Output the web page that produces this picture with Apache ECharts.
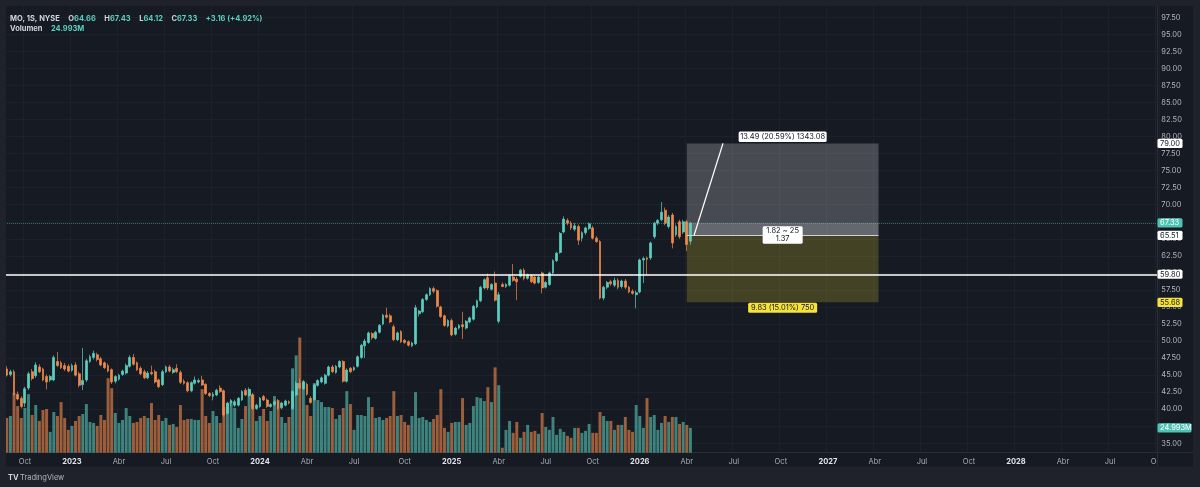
<!DOCTYPE html>
<html><head><meta charset="utf-8">
<script src="https://cdn.jsdelivr.net/npm/echarts@6/dist/echarts.min.js"></script>
<style>html,body{margin:0;padding:0;background:#1f222b;}#c{width:1200px;height:487px;}</style>
</head><body><div id="c"></div>
<script>
// ---------------- DATA (weekly candles, MO, NYSE) ----------------
const opens = [
45.9,45.1,45.5,42.2,41.6,40.9,43.1,45.5,44.9,46.2,
45.9,44.8,44.3,44.3,47.0,46.8,46.4,46.3,45.7,46.5,
45.2,43.6,44.3,47.0,47.6,48.0,47.4,46.8,46.4,45.8,
44.1,44.4,45.1,45.3,46.3,47.6,46.8,46.0,45.5,44.6,
45.4,45.5,44.3,43.6,45.5,46.2,45.4,46.0,45.4,44.1,
43.9,42.7,43.8,44.0,44.3,43.65,42.3,41.9,42.1,43.1,
42.7,39.4,40.9,40.6,40.6,41.4,42.8,42.0,42.1,40.1,
40.4,41.85,41.35,40.4,40.7,41.2,40.2,40.6,41.1,40.1,
42.1,43.8,43.0,43.65,41.6,41.4,43.5,44.0,43.8,45.0,
46.2,45.4,46.2,47.0,44.1,46.0,45.8,46.3,47.6,49.3,
49.8,51.1,50.4,51.3,52.5,53.8,53.7,52.1,50.2,51.4,
50.1,49.9,49.3,49.6,54.0,54.3,56.1,56.8,57.7,57.4,
55.0,53.7,52.2,53.0,51.0,51.9,52.4,51.9,52.8,53.2,
55.0,55.9,57.8,59.3,57.6,58.5,52.9,58.3,58.0,58.2,
59.4,59.1,59.5,60.4,59.2,59.6,59.4,58.6,60.0,57.9,
58.3,60.0,61.8,63.0,66.0,67.7,67.3,66.4,66.8,65.1,
65.9,66.5,66.6,65.1,64.6,56.3,57.9,58.7,58.2,58.9,
58.0,58.8,57.9,57.3,56.8,57.2,61.9,62.2,62.2,65.3,
67.3,67.8,69.2,66.8,68.5,65.6,67.5,66.0,67.5,64.66];
const highs = [
46.3,45.8,45.8,42.6,41.9,43.3,45.5,45.9,46.9,46.6,
46.1,45.1,45.0,47.9,48.4,47.1,46.8,46.6,46.7,46.9,
45.5,49.0,47.4,48.0,48.6,48.3,47.7,47.0,46.7,46.0,
45.0,45.2,45.8,46.7,47.9,48.1,47.0,46.3,45.8,45.6,
46.4,45.8,44.5,45.8,46.4,46.5,46.1,46.6,45.7,44.4,
44.1,44.1,44.8,44.5,44.9,43.8,42.5,42.5,43.0,43.5,
42.9,41.1,41.5,41.4,41.8,42.8,43.1,43.2,42.4,40.8,
41.8,42.1,41.6,40.9,41.3,41.5,41.1,41.4,41.3,42.8,
44.1,44.5,44.3,43.9,41.9,43.8,44.4,44.8,45.2,46.4,
46.5,46.5,47.2,47.2,46.0,46.2,46.3,47.9,49.6,50.3,
51.4,51.3,51.5,52.5,54.0,54.9,54.0,52.4,51.4,51.6,
50.3,50.1,49.9,55.3,54.6,56.3,57.0,57.9,58.0,57.6,
55.2,53.9,53.2,53.3,52.1,52.5,54.3,53.1,53.6,55.3,
56.1,58.1,59.2,59.9,58.5,60.2,57.2,58.6,58.5,59.8,
61.3,59.4,60.6,60.7,59.9,59.8,59.6,59.6,60.2,58.8,
60.2,62.0,63.1,66.0,68.3,68.0,67.6,67.3,67.1,66.1,
66.8,67.4,66.9,65.4,64.8,58.1,58.8,59.0,59.3,59.2,
59.0,59.1,58.1,57.6,57.4,62.1,62.4,62.4,64.6,67.5,
67.9,70.4,69.6,68.5,68.8,67.1,67.8,67.8,67.8,67.43];
const lows = [
44.8,44.8,42.0,41.3,40.1,40.3,42.8,44.2,44.6,45.3,
44.1,42.9,44.0,44.1,46.2,45.9,45.6,45.4,45.5,44.8,
43.2,42.8,44.0,46.8,47.3,47.0,46.3,45.9,45.4,43.7,
43.8,44.2,44.9,45.1,46.1,46.4,45.6,45.0,44.4,44.4,
45.0,43.8,43.1,43.4,45.3,45.4,45.2,45.3,43.7,43.6,
42.5,42.5,43.6,43.8,43.4,42.1,41.8,41.3,41.9,42.4,
38.9,39.2,40.5,40.3,40.4,41.2,41.9,41.8,39.9,39.9,
40.2,41.2,40.2,40.2,40.5,39.9,40.0,40.4,40.7,39.9,
41.9,42.9,42.8,42.0,40.8,41.2,43.3,43.8,43.6,44.8,
45.3,45.2,46.0,43.9,43.9,45.3,45.6,46.1,47.4,47.5,
49.6,50.2,50.2,51.1,52.3,53.3,52.6,50.0,50.0,49.7,
49.6,49.2,49.1,49.4,53.6,54.1,55.9,56.6,57.0,54.9,
53.4,52.1,52.0,50.7,50.8,51.7,50.3,51.7,52.6,53.0,
54.8,55.7,57.6,57.5,57.4,55.8,52.6,57.9,57.8,58.0,
58.7,56.0,59.3,58.9,59.0,58.5,58.3,58.4,57.0,57.7,
58.1,59.8,61.6,62.8,65.8,67.0,66.3,66.1,64.1,64.6,
65.6,66.3,64.9,64.4,56.1,56.0,57.6,58.1,57.9,57.6,
57.7,57.6,57.0,56.8,54.8,57.0,58.5,59.7,61.9,65.0,
67.0,67.6,67.0,66.5,63.6,65.3,65.0,65.7,63.2,64.12];
const closes = [
45.0,45.5,42.2,41.5,40.4,43.0,45.2,44.5,46.5,45.5,
44.3,44.0,44.8,47.6,46.4,46.1,45.9,45.6,46.4,45.0,
43.5,44.2,47.1,47.7,48.2,47.3,46.5,46.1,45.6,44.0,
44.8,45.0,45.6,46.4,47.6,46.6,45.8,45.2,44.6,45.3,
45.2,44.0,43.3,45.5,46.2,45.6,45.8,45.5,43.95,43.8,
42.7,43.9,44.3,44.2,43.55,42.3,42.0,42.2,42.8,42.6,
39.15,40.9,41.3,41.1,41.6,42.6,42.1,42.9,40.1,40.6,
41.6,41.35,40.4,40.7,41.1,40.1,40.9,41.2,40.9,42.6,
43.8,43.1,44.0,42.2,41.0,43.55,44.2,44.6,45.0,46.2,
45.5,46.3,47.0,44.1,45.75,45.5,46.1,47.7,49.4,50.0,
51.2,50.5,51.3,52.3,53.8,53.5,52.8,50.2,51.2,49.9,
49.8,49.4,49.7,54.9,54.4,56.1,56.8,57.7,57.3,55.1,
53.6,52.3,53.0,50.9,51.9,52.3,52.1,52.9,53.4,55.1,
55.9,57.9,59.0,57.8,58.3,56.0,56.8,58.0,58.3,59.6,
58.9,58.7,60.4,59.2,59.7,58.7,58.5,59.4,57.8,58.6,
60.0,61.8,62.9,65.8,67.9,67.3,66.6,66.9,64.8,65.9,
66.6,67.2,65.1,64.6,56.3,57.9,58.6,58.4,58.9,57.9,
58.8,57.9,57.2,57.0,57.1,61.9,62.1,62.0,64.4,67.3,
67.7,68.9,67.3,68.2,64.4,66.8,65.3,67.5,64.17,67.33];
const volumes = [ // millions
35,37,60,47,35,45,59,38,48,32,
43,44,21,41,37,51,35,23,27,32,
37,39,49,31,30,27,38,33,75,65,
40,30,33,45,37,30,31,35,37,35,
50,33,38,32,35,28,29,26,48,33,
34,34,33,33,64,37,30,42,37,30,
46,50,52,45,25,34,47,64,59,32,
37,44,32,42,57,53,36,30,36,85,
98,116,72,48,37,70,53,51,46,46,
45,34,38,45,62,49,23,38,38,37,
56,46,35,36,33,35,37,62,37,38,
31,28,37,61,35,36,33,31,34,38,
64,25,21,30,31,31,55,28,30,47,
56,55,52,66,51,86,68,5,23,32,
20,31,15,21,28,21,22,19,40,26,
23,36,18,24,21,17,15,25,25,20,
22,29,20,20,41,37,32,32,23,28,
28,36,23,21,48,37,25,55,36,38,
23,30,37,31,36,36,29,31,28,24.993];
const priceAxis = {min: 35, max: 97.5, step: 2.5};
const monthNames = ['Ene','Feb','Mar','Abr','May','Jun','Jul','Ago','Sep','Oct','Nov','Dic'];
const position = {entry: 65.51, target: 79.00, stop: 55.68, startBar: 188, endBar: 241};
const positionTexts = {top: '13.49 (20.59%) 1343.08', mid: '1.82 ~ 25', ratio: '1.37', bottom: '9.83 (15.01%) 750'};
const horizontalLevel = 59.80;
const trendLine = {fromBar: 190, fromPrice: 65.51, toBar: 198, toPrice: 79.00};
const symbolTitle = 'MO, 1S, NYSE';

// ---------------- STYLE ----------------
const FONT = 'Inter, "Noto Sans", sans-serif';
const UP = '#5bd0c0', DOWN = '#f0894a';
const UPV = 'rgba(91,208,192,0.58)', DOWNV = 'rgba(240,137,74,0.62)';
const PANEL = '#161a23', OUTER = '#1f222b', GRIDC = '#1d212b', SEP = '#2a2e39';
const N_WEEKS = 319, BAR_PX = 3.617;
const GW = N_WEEKS * BAR_PX;

const DAY = 86400000, START = Date.UTC(2022, 7, 29);
const weeks = [];
for (let i = 0; i < N_WEEKS; i++) weeks.push(new Date(START + i * 7 * DAY).toISOString().slice(0, 10));
function isQuarterStart(i) {
  if (i <= 0) return false;
  const m = new Date(START + i * 7 * DAY).getUTCMonth();
  const pm = new Date(START + (i - 1) * 7 * DAY).getUTCMonth();
  return m !== pm && m % 3 === 0;
}
function fmtLabel(v) {
  const d = new Date(v + 'T00:00:00Z');
  const m = d.getUTCMonth();
  return m === 0 ? '{y|' + d.getUTCFullYear() + '}' : '{m|' + monthNames[m] + '}';
}

const candleData = opens.map((o, i) => [o, closes[i], lows[i], highs[i]]);
const volData = volumes.map((v, i) => ({value: v, itemStyle: {color: closes[i] >= opens[i] ? UPV : DOWNV}}));

const n = closes.length;
const last = n - 1;
const chg = closes[last] - closes[last - 1];
const pct = chg / closes[last - 1] * 100;
const sgn = chg >= 0 ? '+' : '';

const chart = echarts.init(document.getElementById('c'), null, {renderer: 'canvas', width: 1200, height: 487});

const option = {
  backgroundColor: PANEL,
  animation: false,
  textStyle: {fontFamily: FONT},
  title: [
    {left: 10, top: 10, padding: 0,
     text: '{w|' + symbolTitle + '}  {w|O}{g|' + opens[last].toFixed(2) + '}  {w|H}{g|' + highs[last].toFixed(2) +
       '}  {w|L}{g|' + lows[last].toFixed(2) + '}  {w|C}{g|' + closes[last].toFixed(2) + '}  {g|' + sgn + chg.toFixed(2) +
       ' (' + sgn + pct.toFixed(2) + '%)}',
     textStyle: {rich: {w: {color: '#d1d4dc', fontSize: 7.5, fontFamily: FONT}, g: {color: UP, fontSize: 7.5, fontFamily: FONT}}}},
    {left: 10, top: 20, padding: 0,
     text: '{w|Volumen}  {g|' + volumes[last].toFixed(3) + 'M}',
     textStyle: {rich: {w: {color: '#d1d4dc', fontSize: 7.5, fontFamily: FONT}, g: {color: UP, fontSize: 7.5, fontFamily: FONT}}}}
  ],
  grid: [
    {left: 5, top: 17.3, width: GW, height: 426},
    {left: 5, top: 6, width: GW, height: 446.7}
  ],
  xAxis: [
    {type: 'category', gridIndex: 0, data: weeks, boundaryGap: true, show: false},
    {type: 'category', gridIndex: 1, data: weeks, boundaryGap: true,
     axisLine: {show: true, lineStyle: {color: SEP, width: 1}},
     axisTick: {show: false},
     axisLabel: {interval: (i) => isQuarterStart(i), formatter: fmtLabel, margin: 5,
       rich: {y: {color: '#e0e3eb', fontWeight: 'bold', fontSize: 7.5, fontFamily: FONT},
              m: {color: '#a9acb5', fontSize: 7.5, fontFamily: FONT}}},
     splitLine: {show: true, interval: (i) => isQuarterStart(i), lineStyle: {color: GRIDC, width: 1}}}
  ],
  yAxis: [
    {type: 'value', gridIndex: 0, position: 'right', min: priceAxis.min, max: priceAxis.max, interval: priceAxis.step,
     axisLine: {show: false}, axisTick: {show: false},
     axisLabel: {margin: 2.5, fontSize: 7.5, color: '#b2b5be', fontFamily: FONT, formatter: (v) => v.toFixed(2)},
     splitLine: {show: true, lineStyle: {color: GRIDC, width: 1}}},
    {type: 'value', gridIndex: 1, min: 0, max: 450, show: false}
  ],
  series: [
    {type: 'bar', name: 'Volumen', xAxisIndex: 1, yAxisIndex: 1, data: volData, barWidth: '82%', z: 1, silent: true},
    {type: 'candlestick', name: 'MO', xAxisIndex: 0, yAxisIndex: 0, data: candleData, barWidth: 2.3, z: 3, silent: true,
     itemStyle: {color: UP, color0: DOWN, borderColor: UP, borderColor0: DOWN, borderWidth: 0.7}},
    {type: 'line', name: 'tools', xAxisIndex: 0, yAxisIndex: 0, data: [], z: 5, silent: true, symbol: 'none',
     markArea: {silent: true, data: [
       [{xAxis: position.startBar, yAxis: position.entry, itemStyle: {color: 'rgba(255,255,255,0.21)'}}, {xAxis: position.endBar, yAxis: position.target}],
       [{xAxis: position.startBar, yAxis: position.entry, itemStyle: {color: 'rgba(255,255,255,0.16)'}}, {xAxis: position.endBar, yAxis: closes[last]}],
       [{xAxis: position.startBar, yAxis: position.stop, itemStyle: {color: 'rgba(255,228,40,0.2)'}}, {xAxis: position.endBar, yAxis: position.entry}]
     ]},
     markLine: {silent: true, symbol: 'none', label: {show: false}, data: [
       {yAxis: closes[last], lineStyle: {color: 'rgba(91,208,192,0.45)', width: 1, type: 'dotted'}},
       {yAxis: horizontalLevel, lineStyle: {color: '#ffffff', width: 1.5, type: 'solid'}},
       [{coord: [position.startBar, position.entry], lineStyle: {color: '#cfd1d6', width: 1, type: 'solid'}}, {coord: [position.endBar, position.entry]}],
       [{coord: [trendLine.fromBar, trendLine.fromPrice], lineStyle: {color: '#ffffff', width: 1.3, type: 'solid'}}, {coord: [trendLine.toBar, trendLine.toPrice]}]
     ]}}
  ]
};
chart.setOption(option);

// ---------------- overlays (tags / labels) positioned through the axes ----------------
const py = (v) => chart.convertToPixel({yAxisIndex: 0}, v);
const vy = (v) => chart.convertToPixel({yAxisIndex: 1}, v);
const px = (i) => chart.convertToPixel({xAxisIndex: 0}, i);
function txt(x, y, text, fill, align, extra) {
  return {type: 'text', x: x, y: y, z: 101,
    style: Object.assign({text: text, fill: fill, fontSize: 7.5, fontFamily: FONT,
      align: align, verticalAlign: 'middle', textAlign: align, textVerticalAlign: 'middle'}, extra || {})};
}
function rect(x, y, w, h, fill, z) {
  return {type: 'rect', z: z || 100, shape: {x: x, y: y, width: w, height: h, r: 1.5}, style: {fill: fill}};
}
function tag(y, text, bg, fg, w) {
  return [rect(1157.5, y - 4.6, w, 9.2, bg, 100), txt(1160, y + 0.3, text, fg, 'left')];
}
const els = [];
// outer frame
els.push({type: 'rect', z: 90, shape: {x: 0, y: 0, width: 1200, height: 6}, style: {fill: OUTER}});
els.push({type: 'rect', z: 90, shape: {x: 0, y: 0, width: 6, height: 487}, style: {fill: OUTER}});
els.push({type: 'rect', z: 90, shape: {x: 1193, y: 0, width: 7, height: 487}, style: {fill: OUTER}});
els.push({type: 'rect', z: 90, shape: {x: 0, y: 466.5, width: 1200, height: 21}, style: {fill: OUTER}});
// price-scale column separator & time-axis cover under price scale
els.push({type: 'rect', z: 89, shape: {x: 1157.5, y: 453.2, width: 36, height: 13.3}, style: {fill: PANEL}});
els.push({type: 'line', z: 91, shape: {x1: 1157.5, y1: 6, x2: 1157.5, y2: 466.5}, style: {stroke: SEP, lineWidth: 1}});
els.push({type: 'line', z: 91, shape: {x1: 1157.5, y1: 452.7, x2: 1193, y2: 452.7}, style: {stroke: SEP, lineWidth: 1}});
// position tool labels
const midX = (px(position.startBar) + px(position.endBar)) / 2;
const yT = py(position.target), yE = py(position.entry), yS = py(position.stop);
els.push(rect(midX - 44, yT - 12, 88, 10.5, '#ffffff', 100));
els.push(txt(midX, yT - 6.6, positionTexts.top, '#131722', 'center'));
els.push(rect(midX - 20, yE - 9, 40, 17.5, '#ffffff', 100));
els.push(txt(midX, yE - 4.3, positionTexts.mid, '#131722', 'center'));
els.push(txt(midX, yE + 3.6, positionTexts.ratio, '#131722', 'center'));
els.push(rect(midX - 34.5, yS + 0.5, 69, 10, '#f7e23c', 100));
els.push(txt(midX, yS + 5.6, positionTexts.bottom, '#131722', 'center'));
// price-scale tags
els.push(...tag(yT, position.target.toFixed(2), '#ffffff', '#131722', 25));
els.push(...tag(py(closes[last]), closes[last].toFixed(2), '#4fc3b3', '#ffffff', 25));
els.push(...tag(yE, position.entry.toFixed(2), '#ffffff', '#131722', 25));
els.push(...tag(py(horizontalLevel), horizontalLevel.toFixed(2), '#ffffff', '#131722', 25));
els.push(...tag(yS, position.stop.toFixed(2), '#f7e23c', '#131722', 25));
els.push(...tag(vy(volumes[last]), volumes[last].toFixed(3) + 'M', '#4fc3b3', '#ffffff', 34));
// footer logo
els.push(txt(8, 477.5, 'TV', '#d1d4dc', 'left', {fontWeight: 'bold', fontSize: 7.5}));
els.push(txt(20, 477.5, 'TradingView', '#b2b5be', 'left', {fontSize: 7.5}));
chart.setOption({graphic: {elements: els}});
</script></body></html>
